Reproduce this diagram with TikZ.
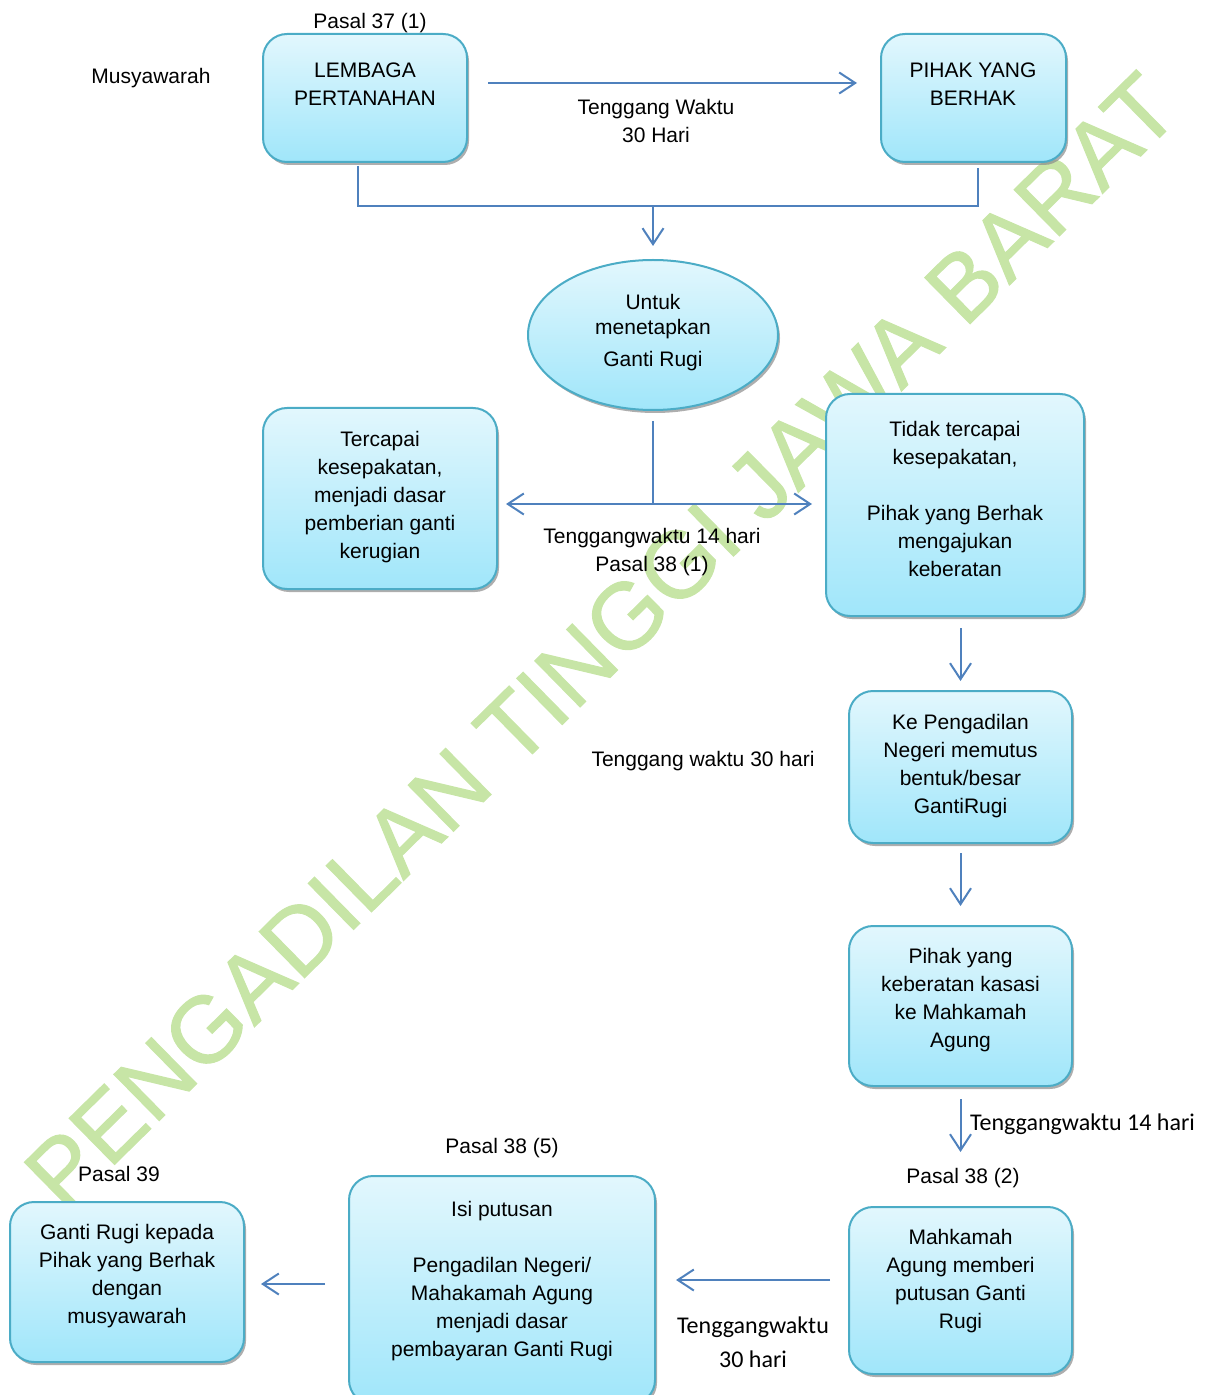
\documentclass[tikz,border=0pt]{standalone}
\usepackage{fontspec}
\setmainfont{Liberation Sans}
\newfontfamily\carlito{Carlito}
\newfontfamily\wmfont[FakeBold=1.2]{Liberation Sans}
\usetikzlibrary{shapes.geometric,shadows,arrows.meta,calc}
\definecolor{boxline}{RGB}{75,172,198}
\definecolor{boxtop}{RGB}{226,247,253}
\definecolor{boxbot}{RGB}{160,230,250}
\definecolor{arrowblue}{RGB}{79,129,189}
\definecolor{wmgreen}{RGB}{199,229,166}
\tikzset{
  box/.style={draw=boxline, line width=1pt, rounded corners=12pt,
    top color=boxtop, bottom color=boxbot,
    drop shadow={shadow xshift=1pt, shadow yshift=-1.5pt, fill=black!45, opacity=.7}},
  txt/.style={align=center, yshift=-1pt, font=\fontsize{10.5}{14}\selectfont},
  cal/.style={align=center, yshift=-1pt, font=\carlito\fontsize{12}{17}\selectfont},
  link/.style={draw=arrowblue, line width=1pt},
  arr/.style={link, >={Straight Barb[length=8pt,width=10.5pt]}, ->},
  wm/.style={text=wmgreen, font=\wmfont\fontsize{47}{47}\selectfont}
}

\begin{document}
\begin{tikzpicture}[x=0.5pt,y=-0.5pt]
  \useasboundingbox (0,0) rectangle (1207,1395);
  %Wasserzeichen
  \node[wm, rotate=44.5] (wmark) at (601,641) {PENGADILAN TINGGI JAWA BARAT};

  %Kotak
  \node[box, minimum width=102pt, minimum height=64pt] (lembaga) at (365,98) {};
  \node[box, minimum width=92.5pt, minimum height=64pt] (pihak) at (973.5,98) {};
  \node[box, ellipse, sharp corners, minimum width=125pt, minimum height=75pt] (ganti) at (653,335) {};
  \node[box, minimum width=117pt, minimum height=90.5pt] (tercapai) at (380,498.5) {};
  \node[box, minimum width=129pt, minimum height=111pt] (tidak) at (955,505) {};
  \node[box, minimum width=111.5pt, minimum height=76pt] (pengadilan) at (960.5,767) {};
  \node[box, minimum width=111.5pt, minimum height=80pt] (kasasi) at (960.5,1006) {};
  \node[box, minimum width=111.5pt, minimum height=83.5pt] (mahkamah) at (960.5,1290.5) {};
  \node[box, minimum width=153pt, minimum height=114pt] (isi) at (502,1290) {};
  \node[box, minimum width=117pt, minimum height=80pt] (gantirugi) at (127,1282) {};

  %Isi kotak
  \node[txt] (lembagaT) at (365,82) {LEMBAGA\\PERTANAHAN};
  \node[txt] (pihakT) at (973,82) {PIHAK YANG\\BERHAK};
  \node[txt, font=\fontsize{10.5}{12.5}\selectfont] (gantiT) at (653,331) {Untuk\\menetapkan\\[3.5pt]Ganti Rugi};
  \node[txt] (tercapaiT) at (380,495) {Tercapai\\kesepakatan,\\menjadi dasar\\pemberian ganti\\kerugian};
  \node[txt] (tidakT) at (955,497) {Tidak tercapai\\kesepakatan,\\[14pt]Pihak yang Berhak\\mengajukan\\keberatan};
  \node[txt] (pengadilanT) at (960.5,764) {Ke Pengadilan\\Negeri memutus\\bentuk/besar\\GantiRugi};
  \node[txt] (kasasiT) at (960.5,998) {Pihak yang\\keberatan kasasi\\ke Mahkamah\\Agung};
  \node[txt] (mahkamahT) at (960.5,1279) {Mahkamah\\Agung memberi\\putusan Ganti\\Rugi};
  \node[txt] (isiT) at (502,1279) {Isi putusan\\[14pt]Pengadilan Negeri/\\Mahakamah Agung\\menjadi dasar\\pembayaran Ganti Rugi};
  \node[txt] (gantirugiT) at (127,1274) {Ganti Rugi kepada\\Pihak yang Berhak\\dengan\\musyawarah};

  %Keterangan
  \node[txt] (pasal37) at (370,21) {Pasal 37 (1)};
  \node[txt] (musyawarah) at (151,76) {Musyawarah};
  \node[txt] (waktuA) at (656,119) {Tenggang Waktu\\30 Hari};
  \node[txt] (waktuB) at (652,550) {Tenggangwaktu 14 hari\\Pasal 38 (1)};
  \node[txt] (waktuC) at (703,759) {Tenggang waktu 30 hari};
  \node[cal, anchor=west] (waktuD) at (963,1122) {Tenggangwaktu 14 hari};
  \node[txt] (pasal382) at (963,1176) {Pasal 38 (2)};
  \node[cal] (waktuE) at (753,1340) {Tenggangwaktu\\30 hari};
  \node[txt] (pasal385) at (502,1146) {Pasal 38 (5)};
  \node[txt] (pasal39) at (119,1172) {Pasal 39};

  %Panah
  \coordinate (toprow) at (0,83);
  \coordinate (join) at (653,206);
  \coordinate (split) at (653,504);
  \coordinate (rowA) at (0,1280);
  \coordinate (rowB) at (0,1284);
  \draw[arr, shorten <=10pt, shorten >=11.5pt] (lembaga.east |- toprow) -- (pihak.west |- toprow);
  \draw[link] ([xshift=-3.5pt,yshift=-1.5pt]lembaga.south) |- (join) -| ([xshift=2.25pt,yshift=-2.5pt]pihak.south);
  \draw[arr, shorten >=6.5pt] (join) -- (ganti.north);
  \draw[link, shorten <=5pt] (ganti.south) -- (split);
  \draw[arr, <->, shorten <=4pt, shorten >=6.5pt] (tercapai.east |- split) -- (tidak.west |- split);
  \draw[arr, shorten <=5.5pt, shorten >=4.5pt] (pengadilan.north |- tidak.south) -- (pengadilan.north);
  \draw[arr, shorten <=4.5pt, shorten >=9.5pt] (pengadilan.south) -- (kasasi.north);
  \draw[arr, shorten <=6pt, shorten >=27pt] (kasasi.south) -- (mahkamah.north);
  \draw[arr, shorten <=9pt, shorten >=10pt] (mahkamah.west |- rowA) -- (isi.east |- rowA);
  \draw[arr, shorten <=11.5pt, shorten >=8pt] (isi.west |- rowB) -- (gantirugi.east |- rowB);
\end{tikzpicture}
\end{document}
